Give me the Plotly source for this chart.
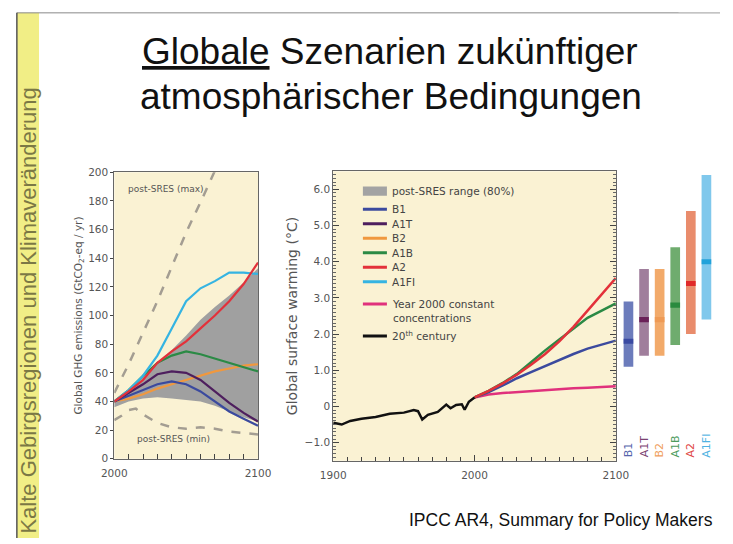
import plotly.graph_objects as go

# ---------------- data: left panel (GHG emissions, GtCO2-eq/yr) ----------------
em_years = [2000, 2010, 2020, 2030, 2040, 2050, 2060, 2070, 2080, 2090, 2100]
em_A1FI = [40, 48, 58, 72, 91, 110, 119, 124, 130, 130, 129]
em_A2 = [40, 47, 55, 67, 75, 82, 91, 100, 110, 122, 137]
em_A1B = [40, 48, 58, 67, 72, 75, 73, 70, 67, 64, 61]
em_B2 = [40, 42, 45, 49, 52, 55, 58, 61, 63, 65, 66]
em_A1T = [40, 46, 52, 59, 61, 60, 55, 47, 39, 32, 26]
em_B1 = [40, 44, 48, 52, 54, 52, 47, 40, 33, 28, 23]
band_upper = [40, 48, 57, 67, 76, 86, 97, 106, 114, 123, 133]
band_lower = [36, 40, 42, 43, 42, 41, 40, 37, 33, 29, 26]
max_years = [2000, 2010, 2020, 2030, 2040, 2050, 2060, 2070]
post_max = [46, 66, 88, 110, 134, 158, 179, 201]
min_years = [2000, 2005, 2010, 2015, 2020, 2030, 2040, 2050, 2060, 2070, 2080, 2090, 2100]
post_min = [27, 30, 34, 35, 31, 25, 22, 21, 22, 21, 19, 18, 17]

# ---------------- data: right panel (surface warming, degC) ----------------
hist_years = [1900, 1906, 1912, 1920, 1930, 1940, 1950, 1957, 1960, 1963, 1967, 1974,
              1980, 1983, 1987, 1991, 1993, 1996, 2000]
hist_temp = [-0.45, -0.50, -0.40, -0.34, -0.29, -0.20, -0.17, -0.10, -0.13, -0.36, -0.23, -0.15,
             0.05, -0.05, 0.04, 0.06, -0.09, 0.13, 0.25]
fut_years = [2000, 2010, 2020, 2030, 2040, 2050, 2060, 2070, 2080, 2090, 2100]
t_B1 = [0.25, 0.40, 0.58, 0.78, 0.95, 1.12, 1.30, 1.45, 1.60, 1.72, 1.82]
t_A1B = [0.25, 0.43, 0.65, 0.90, 1.22, 1.55, 1.85, 2.15, 2.45, 2.65, 2.85]
t_A2 = [0.25, 0.43, 0.64, 0.88, 1.15, 1.45, 1.80, 2.20, 2.65, 3.10, 3.55]
t_const = [0.25, 0.33, 0.37, 0.40, 0.43, 0.45, 0.47, 0.50, 0.52, 0.54, 0.56]

# ---------------- data: right bars (likely range 2090-2099) ----------------
bar_names = ["B1", "A1T", "B2", "A1B", "A2", "A1FI"]
bar_low = [1.1, 1.4, 1.4, 1.7, 2.0, 2.4]
bar_high = [2.9, 3.8, 3.8, 4.4, 5.4, 6.4]
bar_best = [1.8, 2.4, 2.4, 2.8, 3.4, 4.0]

legend_labels = ["post-SRES range (80%)", "B1", "A1T", "B2", "A1B", "A2", "A1FI",
                 "Year 2000 constant<br>concentrations", "20<sup>th</sup> century"]

# ---------------- styles ----------------
C = dict(B1="#3b4a9e", A1T="#4e1f5e", B2="#f0983e", A1B="#2b8a45", A2="#e3313a",
         A1FI="#35b4e2", const="#e0317c")
BAR_FILL = ["#6c7cbc", "#a07e9c", "#f2aa6a", "#6fac6e", "#e98c6c", "#80c8ec"]
BAR_MARK = ["#3a4aa2", "#6a2058", "#ee9a55", "#2a8a3e", "#e02a2a", "#22a2da"]
LBL_COL = ["#5565ac", "#7a4272", "#f0a060", "#4d9c5d", "#e04848", "#4fb2e2"]
CREAM = "#faf2d3"
CHART_FONT = "DejaVu Sans, Verdana, sans-serif"
SLIDE_FONT = "Liberation Sans, Arial, Helvetica, sans-serif"
W, H = 733, 544


def px(x):
    return x / W


def py(y):
    return 1 - y / H


fig = go.Figure()

# left panel
fig.add_trace(go.Scatter(x=em_years, y=band_lower, mode="lines", line=dict(width=0),
                         xaxis="x", yaxis="y"))
fig.add_trace(go.Scatter(x=em_years, y=band_upper, mode="lines", line=dict(width=0),
                         fill="tonexty", fillcolor="#a0a0a0", xaxis="x", yaxis="y"))
fig.add_trace(go.Scatter(x=max_years, y=post_max, mode="lines",
                         line=dict(color="#a39d92", width=2.5, dash="dash"), xaxis="x", yaxis="y"))
fig.add_trace(go.Scatter(x=min_years, y=post_min, mode="lines",
                         line=dict(color="#a39d92", width=2.5, dash="dash"), xaxis="x", yaxis="y"))
for name, vals in [("B2", em_B2), ("B1", em_B1), ("A1T", em_A1T), ("A1B", em_A1B),
                   ("A1FI", em_A1FI), ("A2", em_A2)]:
    fig.add_trace(go.Scatter(x=em_years, y=vals, mode="lines",
                             line=dict(color=C[name], width=2.2), xaxis="x", yaxis="y"))

# right panel
fig.add_trace(go.Scatter(x=fut_years, y=t_const, mode="lines", line=dict(color=C["const"], width=2.5),
                         xaxis="x2", yaxis="y2"))
fig.add_trace(go.Scatter(x=fut_years, y=t_B1, mode="lines", line=dict(color=C["B1"], width=2.5),
                         xaxis="x2", yaxis="y2"))
fig.add_trace(go.Scatter(x=fut_years, y=t_A1B, mode="lines", line=dict(color=C["A1B"], width=2.5),
                         xaxis="x2", yaxis="y2"))
fig.add_trace(go.Scatter(x=fut_years, y=t_A2, mode="lines", line=dict(color=C["A2"], width=2.5),
                         xaxis="x2", yaxis="y2"))
fig.add_trace(go.Scatter(x=hist_years, y=hist_temp, mode="lines", line=dict(color="#111111", width=2.5),
                         xaxis="x2", yaxis="y2"))

# bars
idx = list(range(len(bar_names)))
fig.add_trace(go.Bar(x=idx, y=[h - l for h, l in zip(bar_high, bar_low)], base=bar_low, width=0.62,
                     marker=dict(color=BAR_FILL, line=dict(width=0)), xaxis="x3", yaxis="y3"))
fig.add_trace(go.Bar(x=idx, y=[0.14] * len(idx), base=[b - 0.07 for b in bar_best], width=0.62,
                     marker=dict(color=BAR_MARK, line=dict(width=0)), xaxis="x3", yaxis="y3"))

tickfont = dict(family=CHART_FONT, size=10.5, color="#555555")

fig.update_layout(
    width=W, height=H, margin=dict(l=0, r=0, t=0, b=0), hovermode=False, dragmode=False,
    paper_bgcolor="white", plot_bgcolor=CREAM, showlegend=False, barmode="overlay",
    font=dict(family=CHART_FONT, color="#222222"),
    xaxis=dict(domain=[px(105), px(254)], range=[2000, 2100], tickvals=[2000, 2100],
               ticks="inside", ticklen=5, tickcolor="#444", showgrid=False, zeroline=False,
               showline=True, linecolor="#666", mirror=True, tickfont=tickfont, anchor="y",
               ticklabelstandoff=5,
               minor=dict(dtick=10, ticks="inside", ticklen=5, tickcolor="#444")),
    yaxis=dict(domain=[py(463), py(170)], range=[0, 200], dtick=20, ticks="outside", ticklen=3,
               tickcolor="#444", showgrid=False, zeroline=False, showline=True, linecolor="#666",
               mirror=True, tickfont=tickfont, anchor="x",
               title=dict(text="Global GHG emissions (GtCO<sub>2</sub>-eq / yr)", standoff=3,
                          font=dict(size=10.5, color="#555"))),
    xaxis2=dict(domain=[px(332), px(625)], range=[1900, 2100], tickvals=[1900, 2000, 2100],
                ticks="inside", ticklen=6, tickcolor="#444", showgrid=False, zeroline=False,
                showline=True, linecolor="#666", mirror=True, tickfont=tickfont, anchor="y2",
                ticklabelstandoff=5,
                minor=dict(dtick=10, ticks="inside", ticklen=4, tickcolor="#444")),
    yaxis2=dict(domain=[py(465), py(169)], range=[-1.5, 6.5], tickvals=list(range(-1, 7)),
                ticktext=["\u22121.0", "0", "1.0", "2.0", "3.0", "4.0", "5.0", "6.0"],
                ticks="inside", ticklen=6, tickcolor="#444", showgrid=False, zeroline=False,
                showline=True, linecolor="#666", mirror="allticks", tickfont=tickfont, anchor="x2",
                minor=dict(dtick=0.1, ticks="inside", ticklen=3, tickcolor="#666"),
                title=dict(text="Global surface warming (\u00b0C)", standoff=3,
                           font=dict(size=14, color="#555"))),
    xaxis3=dict(domain=[px(630), px(727)], range=[-0.5, 5.5], visible=False, anchor="y3"),
    yaxis3=dict(domain=[py(465), py(169)], range=[-1.5, 6.5], visible=False, anchor="x3"),
)

# the bar area has a white background
fig.add_shape(type="rect", xref="paper", yref="paper", x0=px(626), x1=px(733), y0=py(468), y1=py(166),
              fillcolor="white", line=dict(width=0), layer="below")

ann = []
# left panel labels
ann.append(dict(x=2008, y=188, xref="x", yref="y", text="post-SRES (max)", showarrow=False,
                xanchor="left", yanchor="middle", font=dict(size=9, color="#555")))
ann.append(dict(x=2041, y=14, xref="x", yref="y", text="post-SRES (min)", showarrow=False,
                xanchor="center", yanchor="middle", font=dict(size=9, color="#555")))

# right legend
leg_y = [5.95, 5.45, 5.05, 4.65, 4.25, 3.85, 3.45, 2.64, 1.95]
leg_col = ["#a3a3a3", C["B1"], C["A1T"], C["B2"], C["A1B"], C["A2"], C["A1FI"], C["const"], "#111111"]
for i, (lab, yv, col) in enumerate(zip(legend_labels, leg_y, leg_col)):
    sym_y = yv + (0.19 if i == 7 else 0)
    if i == 0:
        fig.add_shape(type="rect", xref="x2", yref="y2", x0=1921, x1=1938, y0=sym_y - 0.13,
                      y1=sym_y + 0.13, fillcolor=col, line=dict(width=0))
    else:
        fig.add_shape(type="line", xref="x2", yref="y2", x0=1921, x1=1938, y0=sym_y, y1=sym_y,
                      line=dict(color=col, width=3))
    ann.append(dict(x=1940, y=yv, xref="x2", yref="y2", text=lab, showarrow=False, xanchor="left",
                    yanchor="middle", align="left", font=dict(size=10.5, color="#444")))

# bar labels
for i, (n, col) in enumerate(zip(bar_names, LBL_COL)):
    ann.append(dict(x=i, y=-1.46, xref="x3", yref="y3", text=n, showarrow=False, textangle=-90,
                    xanchor="center", yanchor="bottom", font=dict(size=11, color=col)))

# slide title, sidebar, footer
ann.append(dict(x=px(391), y=py(47), xref="paper", yref="paper", xanchor="center", yanchor="middle",
                text="<u>Globale</u> Szenarien zuk\u00fcnftiger", showarrow=False,
                font=dict(family=SLIDE_FONT, size=37, color="#111")))
ann.append(dict(x=px(392), y=py(93), xref="paper", yref="paper", xanchor="center", yanchor="middle",
                text="atmosph\u00e4rischer Bedingungen", showarrow=False,
                font=dict(family=SLIDE_FONT, size=37, color="#111")))
ann.append(dict(x=px(16), y=py(311), xref="paper", yref="paper", xanchor="center", yanchor="middle",
                text="Kalte Gebirgsregionen und Klimaver\u00e4nderung", showarrow=False, textangle=-90,
                font=dict(family=SLIDE_FONT, size=22, color="#7b7845")))
ann.append(dict(x=px(728), y=py(526), xref="paper", yref="paper", xanchor="right", yanchor="middle",
                text="IPCC AR4, Summary for Policy Makers", showarrow=False,
                font=dict(family=SLIDE_FONT, size=17.5, color="#111")))
fig.update_layout(annotations=ann)

# sidebar band & borders
fig.add_shape(type="rect", xref="paper", yref="paper", x0=px(4), x1=px(27), y0=0, y1=py(7),
              fillcolor="#f1ee86", line=dict(width=0), layer="below")
fig.add_shape(type="line", xref="paper", yref="paper", x0=px(4), x1=1, y0=py(7), y1=py(7),
              line=dict(color="#888", width=1))
fig.add_shape(type="line", xref="paper", yref="paper", x0=px(4), x1=px(4), y0=0, y1=py(7),
              line=dict(color="#555", width=1.5))
# keep the top strip above the border clean
fig.add_shape(type="rect", xref="paper", yref="paper", x0=px(690), x1=1, y0=py(6.5), y1=1,
              fillcolor="white", line=dict(width=0), layer="above")

fig.write_html("out.html", config={"displayModeBar": False, "staticPlot": True},
               post_script="document.documentElement.style.overflow='hidden';"
                           "document.body.style.overflow='hidden';"
                           "document.body.style.margin='0';"
                           "document.body.style.height='544px';")
